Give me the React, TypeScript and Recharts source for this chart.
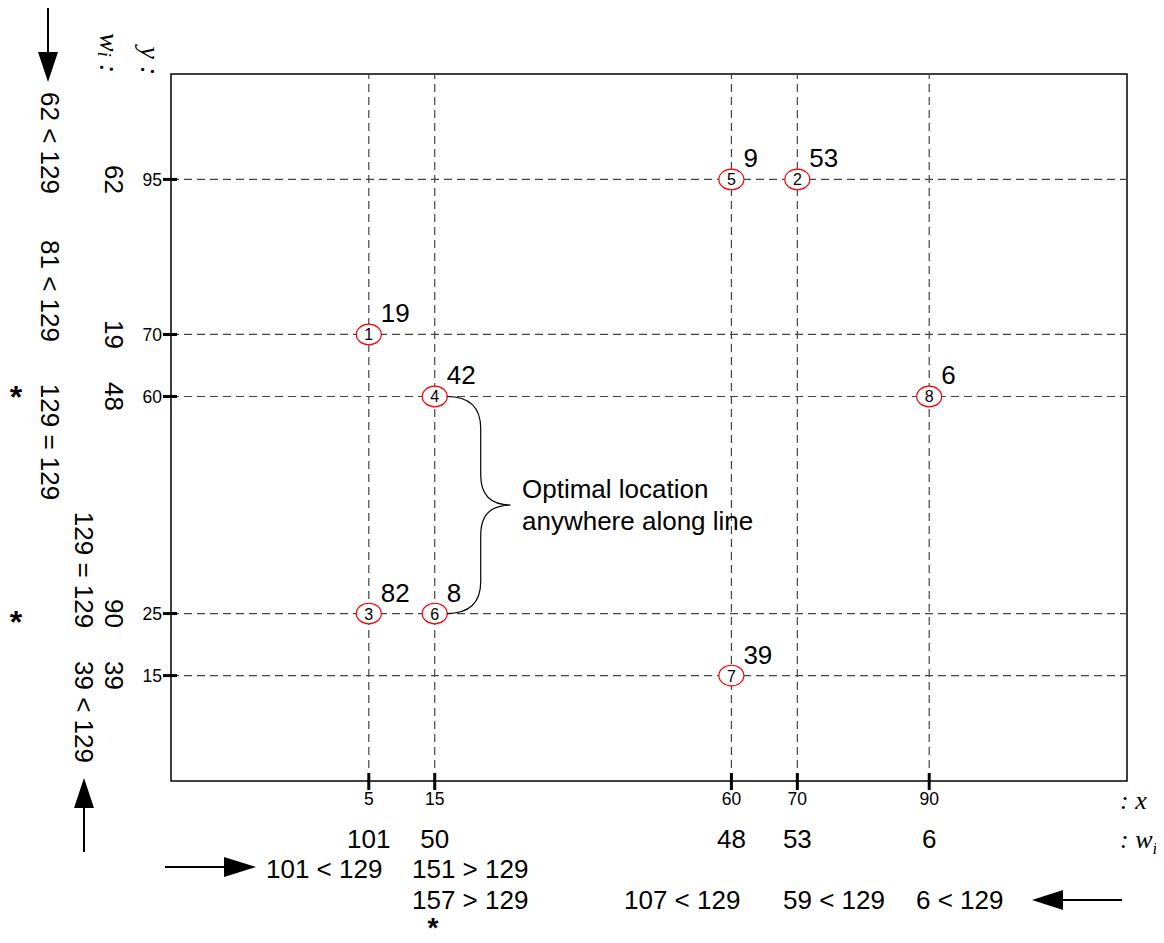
import React from 'react';
import { ScatterChart, Scatter, XAxis, YAxis, ReferenceLine, ReferenceArea } from 'recharts';

// ---------- data ----------
const pointIds = [1, 2, 3, 4, 5, 6, 7, 8];
const pointX = [5, 70, 5, 15, 60, 15, 60, 90];
const pointY = [70, 95, 25, 60, 95, 25, 15, 60];
const pointW = [19, 53, 82, 42, 9, 8, 39, 6];

const xTicks = [5, 15, 60, 70, 90];
const xWeights = [101, 50, 48, 53, 6];
const yTicks = [95, 70, 60, 25, 15];
const yWeights = [62, 19, 48, 90, 39];

const yCumulative = ['62 < 129', '81 < 129', '129 = 129', '129 = 129', '39 < 129'];
const xCumulative = ['101 < 129', '151 > 129', '157 > 129', '107 < 129', '59 < 129', '6 < 129'];
const optimalText = ['Optimal location', 'anywhere along line'];

const X_DOMAIN: [number, number] = [-25, 120];
const Y_DOMAIN: [number, number] = [-2, 112];

// ---------- layout ----------
const W = 1156;
const H = 935;
const PLOT = { top: 66, right: 37, bottom: 162, left: 163 };
const Y_AXIS_W = 60;
const X_AXIS_H = 30;
const M = { top: PLOT.top, right: PLOT.right, bottom: PLOT.bottom - X_AXIS_H, left: PLOT.left - Y_AXIS_W };
const SANS = '"Liberation Sans", Arial, Helvetica, sans-serif';
const SERIF = '"Liberation Serif", "Times New Roman", serif';
const BIG = 26;
const TICK = 17.5;

const points = pointIds.map((id, i) => ({ id, x: pointX[i], y: pointY[i], w: pointW[i] }));

// helpers mirroring the chart scales (for the annotation layer only)
const plotW = W - PLOT.left - PLOT.right;
const plotH = H - PLOT.top - PLOT.bottom;
const sx = (v: number) => PLOT.left + ((v - X_DOMAIN[0]) / (X_DOMAIN[1] - X_DOMAIN[0])) * plotW;
const sy = (v: number) => PLOT.top + ((Y_DOMAIN[1] - v) / (Y_DOMAIN[1] - Y_DOMAIN[0])) * plotH;

const renderPoint = (props: any) => {
  const { cx, cy, payload } = props;
  return (
    <g>
      <ellipse cx={cx} cy={cy} rx={12.5} ry={10.3} fill="#fff" stroke="#ff0000" strokeWidth={1.2} />
      <text x={cx} y={cy + 6} textAnchor="middle" fontSize={16} fill="#000">
        {payload.id}
      </text>
      <text x={cx + 12} y={cy - 12} fontSize={BIG} fill="#000">
        {payload.w}
      </text>
    </g>
  );
};

const XTick = (props: any) => {
  const { x, y, payload } = props;
  const i = xTicks.indexOf(payload.value);
  return (
    <g>
      <line x1={x} x2={x} y1={y - 8} y2={y + 9} stroke="#000" strokeWidth={3} />
      <text x={x} y={y + 24} textAnchor="middle" fontSize={TICK} fill="#000">
        {payload.value}
      </text>
      <text x={x} y={y + 67} textAnchor="middle" fontSize={BIG} fill="#000">
        {xWeights[i]}
      </text>
    </g>
  );
};

const RotText = ({ x, y, size = BIG, children, style }: any) => (
  <text
    x={x}
    y={y}
    textAnchor="middle"
    dominantBaseline="central"
    fontSize={size}
    fill="#000"
    transform={`rotate(90 ${x} ${y})`}
    style={style}
  >
    {children}
  </text>
);

const YTick = (props: any) => {
  const { x, y, payload } = props;
  const i = yTicks.indexOf(payload.value);
  return (
    <g>
      <line x1={x - 8} x2={x + 6} y1={y} y2={y} stroke="#000" strokeWidth={3} />
      <text x={x - 9} y={y + 6.3} textAnchor="end" fontSize={TICK} fill="#000">
        {payload.value}
      </text>
      <RotText x={x - 57} y={y}>{yWeights[i]}</RotText>
    </g>
  );
};

const Arrow = ({ x1, y1, x2, y2, head = 31, half = 10 }: any) => {
  const dx = x2 - x1;
  const dy = y2 - y1;
  const len = Math.sqrt(dx * dx + dy * dy);
  const ux = dx / len;
  const uy = dy / len;
  const bx = x2 - ux * head;
  const by = y2 - uy * head;
  const px = -uy * half;
  const py = ux * half;
  return (
    <g>
      <line x1={x1} y1={y1} x2={bx} y2={by} stroke="#000" strokeWidth={2} />
      <polygon points={`${x2},${y2} ${bx + px},${by + py} ${bx - px},${by - py}`} fill="#000" />
    </g>
  );
};

const Annotations = () => {
  const x0 = sx(15) + 12;
  const xv = sx(15) + 46;
  const xt = sx(15) + 76;
  const yTop = sy(60);
  const yBot = sy(25);
  const mid = (yTop + yBot) / 2;
  const brace = [
    `M ${x0} ${yTop}`,
    `C ${x0 + 22} ${yTop} ${xv} ${yTop + 10} ${xv} ${yTop + 32}`,
    `L ${xv} ${mid - 30}`,
    `C ${xv} ${mid - 8} ${xv + 12} ${mid} ${xt} ${mid}`,
    `C ${xv + 12} ${mid} ${xv} ${mid + 8} ${xv} ${mid + 30}`,
    `L ${xv} ${yBot - 32}`,
    `C ${xv} ${yBot - 10} ${x0 + 22} ${yBot} ${x0} ${yBot}`,
  ].join(' ');
  const italic = { fontFamily: SERIF, fontStyle: 'italic' };
  return (
    <svg
      width={W}
      height={H}
      style={{ position: 'absolute', left: 0, top: 0, pointerEvents: 'none', overflow: 'visible', fontFamily: SANS }}
    >
      {/* brace and note */}
      <path d={brace} fill="none" stroke="#000" strokeWidth={1.2} />
      <text x={514} y={490} fontSize={BIG} fill="#000">{optimalText[0]}</text>
      <text x={514} y={522} fontSize={BIG} fill="#000">{optimalText[1]}</text>

      {/* left side: cumulative y sums */}
      <RotText x={42} y={135}>{yCumulative[0]}</RotText>
      <RotText x={42} y={283}>{yCumulative[1]}</RotText>
      <RotText x={42} y={434}>{yCumulative[2]}</RotText>
      <RotText x={76} y={562}>{yCumulative[3]}</RotText>
      <RotText x={76} y={704}>{yCumulative[4]}</RotText>

      {/* axis captions */}
      <RotText x={102} y={45} size={28} style={italic}>
        <tspan>w</tspan>
        <tspan fontSize={18} dy={6}>i</tspan>
        <tspan dy={-6}> :</tspan>
      </RotText>
      <RotText x={142} y={53} size={28} style={italic}>y :</RotText>
      <text x={1112} y={801} fontSize={BIG} fill="#000" style={italic}>: x</text>
      <text x={1112} y={840} fontSize={BIG} fill="#000" style={italic}>
        <tspan>: w</tspan>
        <tspan fontSize={17} dy={6}>i</tspan>
      </text>

      {/* asterisks */}
      <text x={8} y={400} textAnchor="middle" fontSize={32} fontWeight="bold" fill="#000">*</text>
      <text x={8} y={625} textAnchor="middle" fontSize={32} fontWeight="bold" fill="#000">*</text>
      <text x={425} y={929} textAnchor="middle" fontSize={28} fontWeight="bold" fill="#000">*</text>

      {/* bottom: cumulative x sums */}
      <text x={258} y={870} fontSize={BIG} fill="#000">{xCumulative[0]}</text>
      <text x={404} y={870} fontSize={BIG} fill="#000">{xCumulative[1]}</text>
      <text x={404} y={901} fontSize={BIG} fill="#000">{xCumulative[2]}</text>
      <text x={616} y={901} fontSize={BIG} fill="#000">{xCumulative[3]}</text>
      <text x={775} y={901} fontSize={BIG} fill="#000">{xCumulative[4]}</text>
      <text x={908} y={901} fontSize={BIG} fill="#000">{xCumulative[5]}</text>

      {/* arrows */}
      <Arrow x1={40} y1={0} x2={40} y2={74} head={30} half={10} />
      <Arrow x1={76} y1={844} x2={76} y2={770} head={30} half={10} />
      <Arrow x1={157} y1={859} x2={248} y2={859} head={32} half={10} />
      <Arrow x1={1114} y1={892} x2={1024} y2={892} head={31} half={10} />
    </svg>
  );
};

export default function App() {
  return (
    <div style={{ position: 'relative', width: W, height: H, fontFamily: SANS }}>
      <ScatterChart width={W} height={H} margin={M}>
        <XAxis
          type="number"
          dataKey="x"
          domain={X_DOMAIN}
          ticks={xTicks}
          interval={0}
          height={X_AXIS_H}
          tickSize={0}
          tickMargin={0}
          axisLine={false}
          tickLine={false}
          allowDataOverflow
          tick={<XTick />}
        />
        <YAxis
          type="number"
          dataKey="y"
          domain={Y_DOMAIN}
          ticks={yTicks}
          interval={0}
          width={Y_AXIS_W}
          tickSize={0}
          tickMargin={0}
          axisLine={false}
          tickLine={false}
          allowDataOverflow
          tick={<YTick />}
        />
        <ReferenceArea
          x1={X_DOMAIN[0]}
          x2={X_DOMAIN[1]}
          y1={Y_DOMAIN[0]}
          y2={Y_DOMAIN[1]}
          fill="none"
          fillOpacity={0}
          stroke="#000"
          strokeWidth={1.5}
          ifOverflow="visible"
        />
        {xTicks.map((v) => (
          <ReferenceLine key={`vx${v}`} x={v} stroke="#444" strokeWidth={1.2} strokeDasharray="8 5" />
        ))}
        {yTicks.map((v) => (
          <ReferenceLine key={`hy${v}`} y={v} stroke="#444" strokeWidth={1.2} strokeDasharray="8 5" />
        ))}
        <Scatter data={points} dataKey="y" isAnimationActive={false} shape={renderPoint} />
      </ScatterChart>
      <Annotations />
    </div>
  );
}
